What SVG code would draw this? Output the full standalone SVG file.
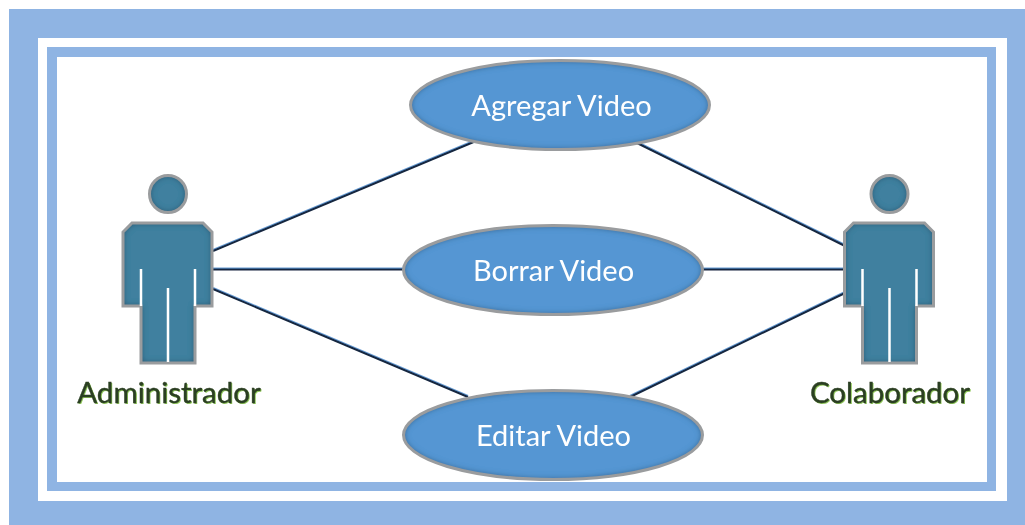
<svg xmlns="http://www.w3.org/2000/svg" width="1025" height="525" viewBox="0 0 1025 525">
<style>
#connectors path{stroke:#14273f;stroke-width:2;fill:none}
#connectors{filter:url(#lineglow)}
.ucf{fill:#5596d3;filter:url(#inner)}
.actf{fill:#40809f;filter:url(#inner)}
.edge{fill:none;stroke:#9a9c9e;stroke-width:3;filter:url(#soft)}
.seam{stroke:#fff;stroke-width:2.500;fill:none}
.uct{font-family:Lato,"Open Sans",sans-serif;font-size:29px;fill:#fff;text-anchor:middle;filter:url(#tsoft)}
.lab{font-family:Lato,"Open Sans",sans-serif;font-size:29.500px;fill:#2c3f22;text-anchor:middle;stroke:#2c3f22;stroke-width:.4;filter:url(#tsoft)}
.labs{fill:#8fc75a;stroke:none}
</style>
<defs>
<filter id="inner" x="-5%" y="-5%" width="110%" height="110%">
<feGaussianBlur in="SourceAlpha" stdDeviation="3" result="b"/>
<feComposite in="SourceAlpha" in2="b" operator="out" result="edge"/>
<feFlood flood-color="#16314a" flood-opacity=".9"/>
<feComposite in2="edge" operator="in" result="shade"/>
<feMerge><feMergeNode in="SourceGraphic"/><feMergeNode in="shade"/></feMerge>
</filter>
<filter id="soft" x="-5%" y="-5%" width="110%" height="110%"><feGaussianBlur stdDeviation=".5"/></filter>
<filter id="tsoft" x="-5%" y="-10%" width="110%" height="120%"><feGaussianBlur stdDeviation=".35"/></filter>
<filter id="lineglow" x="-5%" y="-5%" width="110%" height="110%"><feDropShadow dx="0" dy="-1" stdDeviation=".4" flood-color="#3d7fc4" flood-opacity=".8"/></filter>
<g id="actor">
<circle class="actf" cx="168" cy="194" r="18.500"/>
<circle class="edge" cx="168" cy="194" r="18.500"/>
<path class="actf" d="M132 223H203L212 232V306H195V363H141V306H123V232Z"/>
<path class="edge" d="M132 223H203L212 232V306H195V363H141V306H123V232Z"/>
<path class="seam" d="M141 269V306M195 269V306M168 288V362"/>
</g>
</defs>
<g id="frame">
<path fill="#8fb4e3" fill-rule="evenodd" d="M9 9H1025V525H9ZM38 38V501H1007V38Z"/>
<path fill="#8fb4e3" fill-rule="evenodd" d="M47 47H996V491H47ZM57 57V482H987V57Z"/>
</g>
<g id="connectors">
<path d="M213 251L476 141"/>
<path d="M213 269.500H403"/>
<path d="M213 289L468 397"/>
<path d="M637 143L845 246"/>
<path d="M703 269.500H845"/>
<path d="M630 397L845 293"/>
</g>
<g id="uc-agregar"><ellipse class="ucf" cx="560" cy="105" rx="149.500" ry="44.500"/><ellipse class="edge" cx="560" cy="105" rx="149.500" ry="44.500"/><text class="uct" x="561.500" y="116">Agregar Video</text></g>
<g id="uc-borrar"><ellipse class="ucf" cx="553" cy="270" rx="149.500" ry="44.500"/><ellipse class="edge" cx="553" cy="270" rx="149.500" ry="44.500"/><text class="uct" x="553.500" y="281">Borrar Video</text></g>
<g id="uc-editar"><ellipse class="ucf" cx="553" cy="435" rx="149.500" ry="44.500"/><ellipse class="edge" cx="553" cy="435" rx="149.500" ry="44.500"/><text class="uct" x="553.500" y="446">Editar Video</text></g>
<g id="actor-admin"><use href="#actor"/>
<text class="lab labs" x="170" y="404">Administrador</text>
<text class="lab" x="169" y="403">Administrador</text></g>
<g id="actor-colab"><use href="#actor" x="721.500"/>
<text class="lab labs" x="891" y="404">Colaborador</text>
<text class="lab" x="890" y="403">Colaborador</text></g>
</svg>
